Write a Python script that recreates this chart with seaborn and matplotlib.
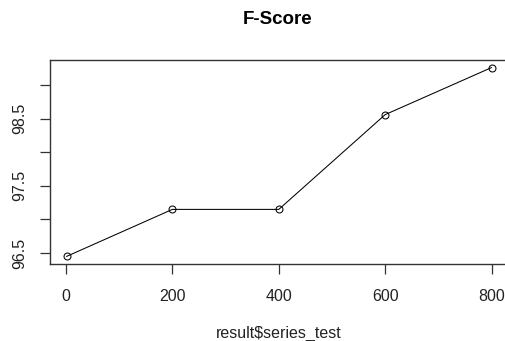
import matplotlib
matplotlib.use("Agg")
import matplotlib.pyplot as plt
import seaborn as sns
import pandas as pd

# F-score per test series
series_test = [1, 200, 400, 600, 800]
f_score = [96.45, 97.15, 97.15, 98.56, 99.26]
y_ticks = [96.5, 97.0, 97.5, 98.0, 98.5, 99.0]
y_labels = ["96.5", "", "97.5", "", "98.5", ""]
x_ticks = [0, 200, 400, 600, 800]

sns.set_style("ticks")
plt.rcParams["font.family"] = ["Liberation Sans", "DejaVu Sans"]

df = pd.DataFrame({"series": series_test, "fscore": f_score})

fig = plt.figure(figsize=(5.06, 3.41), dpi=100)
ax = fig.add_axes([49.5 / 506, 1 - 264 / 341, (508.6 - 49.5) / 506, (264 - 60) / 341])

sns.lineplot(data=df, x="series", y="fscore", ax=ax, color="black", linewidth=0.75,
             marker="o", markersize=5, markerfacecolor="none", markeredgecolor="black",
             markeredgewidth=0.75)

# R-style 4% axis extension
xr = max(series_test) - min(series_test)
yr = max(f_score) - min(f_score)
ax.set_xlim(min(series_test) - 0.04 * xr, max(series_test) + 0.04 * xr)
ax.set_ylim(min(f_score) - 0.04 * yr, max(f_score) + 0.04 * yr)

ax.set_xticks(x_ticks)
ax.set_xticklabels([str(v) for v in x_ticks], fontsize=11.5, color="#222222")
ax.set_yticks(y_ticks)
ax.set_yticklabels(y_labels, fontsize=11.5, rotation=90, va="center", color="#222222")

ax.tick_params(axis="x", length=7.5, width=0.9, pad=10.5, color="#333333")
ax.tick_params(axis="y", length=7, width=0.9, pad=9, color="#333333")

for name, s in ax.spines.items():
    s.set_visible(name != "right")
    s.set_linewidth(1.0)
    s.set_color("#333333")

ax.set_xlabel("result$series_test", fontsize=11.5, color="#222222", labelpad=15.5)
ax.set_ylabel("")
fig.text(278 / 506, 1 - 20 / 341, "F-Score", ha="center", va="center",
         fontsize=13.5, fontweight="bold", color="black")

fig.savefig("out.png", dpi=100)
